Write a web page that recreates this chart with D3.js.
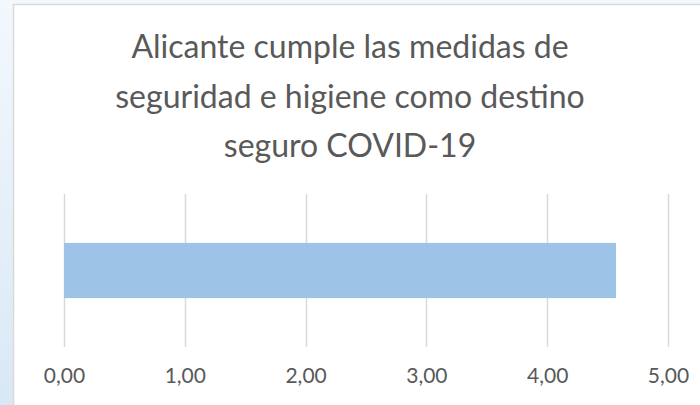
<!DOCTYPE html>
<html>
<head>
<meta charset="utf-8">
<title>Alicante destino seguro</title>
<script src="https://d3js.org/d3.v7.min.js"></script>
<style>
    html, body { margin: 0; padding: 0; }
    body { width: 700px; height: 405px; overflow: hidden; background: #fff; }
    text { font-family: Lato, "Open Sans", sans-serif; fill: #595959; }
</style>
</head>
<body>
<svg width="700" height="405"></svg>
<script>
    // datos
    var categories = ["Alicante"];
    var values = [4.57];
    var xTicks = [0, 1, 2, 3, 4, 5];
    var titleLines = ["Alicante cumple las medidas de", "seguridad e higiene como destino", "seguro COVID-19"];

    var svg = d3.select("svg");
    var width = +svg.attr("width");
    var height = +svg.attr("height");

    // fondo de la diapositiva (azul claro)
    var defs = svg.append("defs");
    var grad = defs.append("linearGradient")
        .attr("id", "bg").attr("x1", 0).attr("y1", 0).attr("x2", 0).attr("y2", 1);
    grad.append("stop").attr("offset", "0%").attr("stop-color", "#f3f8fd");
    grad.append("stop").attr("offset", "100%").attr("stop-color", "#d9e8f6");
    svg.append("rect").attr("width", width).attr("height", height).attr("fill", "url(#bg)");

    // area del grafico
    svg.append("rect")
        .attr("x", 13.5).attr("y", 4.5)
        .attr("width", 700).attr("height", 420)
        .attr("fill", "#fff")
        .attr("stroke", "#d9d9d9").attr("stroke-width", 1.5);

    var marge = {top: 194, bottom: 58, left: 64, right: 32};

    var xScale = d3.scaleLinear()
        .domain([0, 5])
        .range([marge.left, width - marge.right]);

    var yScale = d3.scaleBand()
        .domain(categories)
        .range([marge.top, height - marge.bottom])
        .padding(0.47);

    var es = d3.formatLocale({decimal: ",", thousands: ".", grouping: [3], currency: ["", " €"]});
    var fmt = es.format(".2f");

    // lineas de cuadricula
    svg.append("g")
        .selectAll("line")
        .data(xTicks)
        .enter()
        .append("line")
        .attr("x1", function (d) { return Math.round(xScale(d)) + 0.5; })
        .attr("x2", function (d) { return Math.round(xScale(d)) + 0.5; })
        .attr("y1", marge.top)
        .attr("y2", height - marge.bottom)
        .attr("stroke", "#d9d9d9")
        .attr("stroke-width", 1.5);

    // barra
    svg.append("g")
        .selectAll("rect")
        .data(values)
        .enter()
        .append("rect")
        .attr("x", xScale(0))
        .attr("y", function (d, i) { return yScale(categories[i]); })
        .attr("width", function (d) { return xScale(d) - xScale(0); })
        .attr("height", yScale.bandwidth())
        .attr("fill", "#9dc3e6");

    // eje x
    var xAxis = d3.axisBottom(xScale)
        .tickValues(xTicks)
        .tickFormat(fmt)
        .tickSize(0)
        .tickPadding(0);
    var gx = svg.append("g")
        .attr("transform", "translate(0," + (height - marge.bottom + 21) + ")")
        .call(xAxis);
    gx.select(".domain").remove();
    gx.selectAll("text")
        .attr("dy", "0.71em")
        .style("font-size", "21px")
        .attr("fill", "#595959");

    // titulo
    svg.append("text")
        .attr("text-anchor", "middle")
        .style("font-size", "32px")
        .selectAll("tspan")
        .data(titleLines)
        .enter()
        .append("tspan")
        .attr("x", 350)
        .attr("y", function (d, i) { return 58 + i * 49.5; })
        .text(function (d) { return d; });
</script>
</body>
</html>
